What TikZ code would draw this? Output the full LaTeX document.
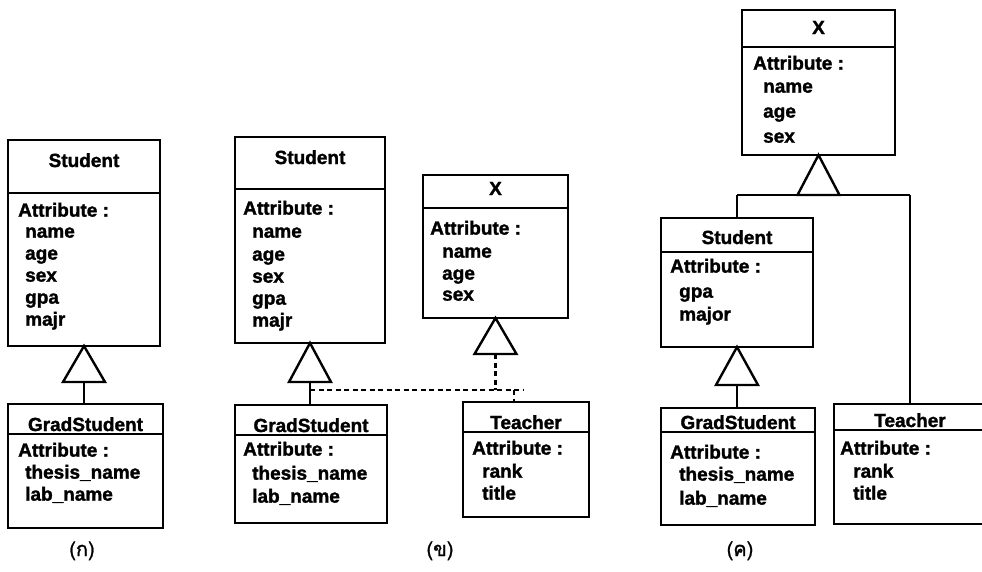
\documentclass[tikz,border=0pt]{standalone}
\usepackage{fontspec}
\setmainfont{Liberation Sans}[BoldFeatures={FakeBold=1.5}]
\newfontfamily\thaifont[Script=Thai,FakeBold=1.2]{Loma}

\begin{document}
\begin{tikzpicture}[x=1pt,y=-1pt,
  box/.style={draw, line width=2.4pt, inner sep=0pt, outer sep=0pt, anchor=north west},
  rule/.style={line width=2pt},
  link/.style={line width=2.4pt},
  dlink/.style={line width=2.2pt, dash pattern=on 5pt off 3.5pt},
  tri/.style={line width=2.4pt, fill=white, line join=miter},
  lbl/.style={font=\bfseries\fontsize{19}{22}\selectfont, inner sep=0pt, anchor=mid west},
  ttl/.style={font=\bfseries\fontsize{19}{22}\selectfont, inner sep=0pt, anchor=base},
  figlabel/.style={font=\thaifont\fontsize{20}{24}\selectfont, inner sep=0pt, anchor=base}]

\fill[white] (0,0) rectangle (982,571);
\useasboundingbox (0,0) rectangle (982,571);
\clip (0,0) rectangle (982,571);

% ---------------- (ก) ----------------
\node[box, minimum width=152pt, minimum height=206pt] (sA) at (8,140) {};
\draw[rule] (8,193) -- (160,193);
\node[ttl] (sAt) at (84,167) {Student};
\node[lbl] (sA1) at (18,214) {Attribute :};
\node[lbl] (sA2) at (25,235) {name};
\node[lbl] (sA3) at (25,257) {age};
\node[lbl] (sA4) at (25,279) {sex};
\node[lbl] (sA5) at (25,301) {gpa};
\node[lbl] (sA6) at (25,323) {majr};

\node[box, minimum width=155pt, minimum height=124pt] (gA) at (8,404) {};
\draw[rule] (8,434) -- (163,434);
\node[ttl] (gAt) at (85.5,431) {GradStudent};
\node[lbl] (gA1) at (18,454) {Attribute :};
\node[lbl] (gA2) at (25,476) {thesis\_name};
\node[lbl] (gA3) at (25,498) {lab\_name};

\coordinate (tAb) at (84,382);
\draw[tri] (sA.south) -- (105,382) -- (63,382) -- cycle;
\draw[link] (tAb) -- (tAb |- gA.north);

\node[figlabel] (labA) at (82,556) {(ก)};

% ---------------- (ข) ----------------
\node[box, minimum width=150pt, minimum height=206pt] (sB) at (235,137) {};
\draw[rule] (235,189) -- (385,189);
\node[ttl] (sBt) at (310,164) {Student};
\node[lbl] (sB1) at (243,212) {Attribute :};
\node[lbl] (sB2) at (252,235) {name};
\node[lbl] (sB3) at (252,258) {age};
\node[lbl] (sB4) at (252,280) {sex};
\node[lbl] (sB5) at (252,302) {gpa};
\node[lbl] (sB6) at (252,324) {majr};

\node[box, minimum width=145pt, minimum height=143pt] (xB) at (423,175) {};
\draw[rule] (423,208) -- (568,208);
\node[ttl] (xBt) at (495.5,195) {X};
\node[lbl] (xB1) at (430,232) {Attribute :};
\node[lbl] (xB2) at (442,255) {name};
\node[lbl] (xB3) at (442,277) {age};
\node[lbl] (xB4) at (442,298) {sex};

\node[box, minimum width=152pt, minimum height=118pt] (gB) at (235,405) {};
\draw[rule] (235,435) -- (387,435);
\node[ttl] (gBt) at (311,432) {GradStudent};
\node[lbl] (gB1) at (243,453) {Attribute :};
\node[lbl] (gB2) at (252,477) {thesis\_name};
\node[lbl] (gB3) at (252,500) {lab\_name};

\node[box, minimum width=126pt, minimum height=115pt] (tB) at (463,402) {};
\draw[rule] (463,432) -- (589,432);
\node[ttl] (tBt) at (526,429) {Teacher};
\node[lbl] (tB1) at (472,452) {Attribute :};
\node[lbl] (tB2) at (482,475) {rank};
\node[lbl] (tB3) at (482,497) {title};

% Student -> GradStudent
\coordinate (tBb) at (310,382);
\draw[tri] (sB.south) -- (331,382) -- (289,382) -- cycle;
\draw[link] (tBb) -- (tBb |- gB.north);

% X generalization, drawn dashed
\coordinate (xBb) at (495.5,354);
\draw[tri] (xB.south) -- (516.5,354) -- (474.5,354) -- cycle;
\coordinate (dL) at (310,390);
\coordinate (dR) at (523,390);
\coordinate (dT) at (514,390);
\draw[dlink] (dL) -- (dR);
\draw[dlink] (xBb) -- (xBb |- dL);
\draw[dlink] (dT) -- (dT |- tB.north);

\node[figlabel] (labB) at (440,556) {(ข)};

% ---------------- (ค) ----------------
\node[box, minimum width=153pt, minimum height=145pt] (xC) at (742,10) {};
\draw[rule] (742,47) -- (895,47);
\node[ttl] (xCt) at (818.5,34) {X};
\node[lbl] (xC1) at (753,67) {Attribute :};
\node[lbl] (xC2) at (763,90) {name};
\node[lbl] (xC3) at (763,115) {age};
\node[lbl] (xC4) at (763,140) {sex};

\node[box, minimum width=152pt, minimum height=129pt] (sC) at (661,218) {};
\draw[rule] (661,252) -- (813,252);
\node[ttl] (sCt) at (737,244) {Student};
\node[lbl] (sC1) at (670,270) {Attribute :};
\node[lbl] (sC2) at (679,295) {gpa};
\node[lbl] (sC3) at (679,318) {major};

\node[box, minimum width=154pt, minimum height=117pt] (gC) at (661,408) {};
\draw[rule] (661,432) -- (815,432);
\node[ttl] (gCt) at (738,429) {GradStudent};
\node[lbl] (gC1) at (670,456) {Attribute :};
\node[lbl] (gC2) at (679,478) {thesis\_name};
\node[lbl] (gC3) at (679,502) {lab\_name};

\node[box, minimum width=152pt, minimum height=120pt] (tC) at (834,404) {};
\draw[rule] (834,430) -- (986,430);
\node[ttl] (tCt) at (910,427) {Teacher};
\node[lbl] (tC1) at (840,452) {Attribute :};
\node[lbl] (tC2) at (853,475) {rank};
\node[lbl] (tC3) at (853,497) {title};

% X -> Student, Teacher
\coordinate (xCb) at (818.5,195);
\draw[link] (xCb -| sC.north) -- (xCb -| tC.north);
\draw[link] (xCb -| sC.north) -- (sC.north);
\draw[link] (xCb -| tC.north) -- (tC.north);
\draw[tri] (xC.south) -- (839.5,195) -- (797.5,195) -- cycle;

% Student -> GradStudent
\coordinate (sCb) at (737,385);
\draw[tri] (sC.south) -- (758,385) -- (716,385) -- cycle;
\draw[link] (sCb) -- (sCb |- gC.north);

\node[figlabel] (labC) at (740,556) {(ค)};

\end{tikzpicture}
\end{document}
